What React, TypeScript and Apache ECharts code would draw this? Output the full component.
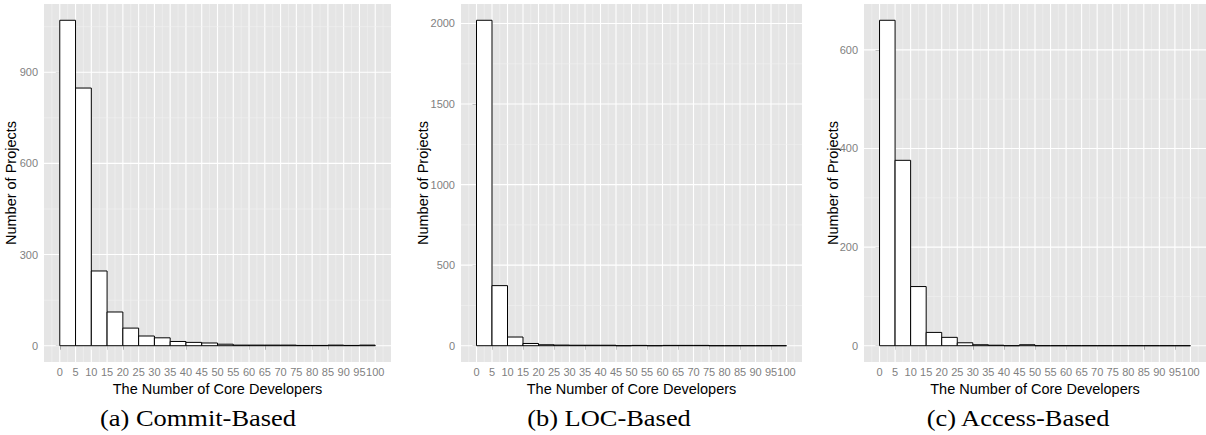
import React, { useEffect, useRef } from 'react';
import * as echarts from 'echarts';

// ---- data ----
const binStarts = [0, 5, 10, 15, 20, 25, 30, 35, 40, 45, 50, 55, 60, 65, 70, 75, 80, 85, 90, 95];
const binWidth = 5;
const xTickValues = [0, 5, 10, 15, 20, 25, 30, 35, 40, 45, 50, 55, 60, 65, 70, 75, 80, 85, 90, 95, 100];

const commitCounts = [1071, 848, 246, 111, 58, 32, 26, 14, 11, 9, 5, 2, 2, 2, 2, 1, 1, 2, 1, 2];
const locCounts = [2020, 373, 54, 14, 6, 4, 3, 3, 3, 0, 2, 0, 2, 2, 2, 0, 0, 0, 0, 0];
const accessCounts = [660, 376, 120, 27, 17, 6, 2, 1, 0, 2, 0, 0, 0, 0, 0, 0, 0, 0, 0, 0];

const commitYTicks = [0, 300, 600, 900];
const locYTicks = [0, 500, 1000, 1500, 2000];
const accessYTicks = [0, 200, 400, 600];

const captions = ['(a) Commit-Based', '(b) LOC-Based', '(c) Access-Based'];
const xTitle = 'The Number of Core Developers';
const yTitle = 'Number of Projects';

const SANS = 'Liberation Sans, Arial, sans-serif';
const SERIF = 'Liberation Serif, Times New Roman, serif';

const panels = [
  { counts: commitCounts, yTicks: commitYTicks, caption: captions[0], left: 44, width: 347, nameGap: 26, capX: 198 },
  { counts: locCounts, yTicks: locYTicks, caption: captions[1], left: 461, width: 341, nameGap: 31, capX: 609 },
  { counts: accessCounts, yTicks: accessYTicks, caption: captions[2], left: 864, width: 347, nameGap: 23.5, capX: 1018 },
];

const X_MIN = -5;
const X_MAX = 105;

export default function App() {
  const ref = useRef<HTMLDivElement>(null);

  useEffect(() => {
    if (!ref.current) return;
    const chart = echarts.init(ref.current, null, { renderer: 'svg' });

    const grids: any[] = [];
    const xAxes: any[] = [];
    const yAxes: any[] = [];
    const series: any[] = [];
    const graphics: any[] = [];

    panels.forEach((p, i) => {
      const maxCount = Math.max(...p.counts);
      const yMin = -0.05 * maxCount;
      const yMax = 1.05 * maxCount;

      grids.push({
        left: p.left, top: 4, width: p.width, height: 358,
        show: true, backgroundColor: '#E5E5E5', borderWidth: 0,
      });

      xAxes.push({
        type: 'value', gridIndex: i, min: X_MIN, max: X_MAX, interval: 5,
        axisLine: { show: false },
        axisTick: { show: true, customValues: xTickValues, length: 4, lineStyle: { color: '#7F7F7F', width: 1 } },
        axisLabel: {
          customValues: xTickValues, color: '#7F7F7F', fontSize: 11, fontFamily: SANS, margin: 4,
          formatter: (v: number) => String(v),
        },
        splitLine: { show: false },
        name: xTitle, nameLocation: 'middle', nameGap: 15,
        nameTextStyle: { color: '#000', fontSize: 14.5, fontFamily: SANS },
      });

      yAxes.push({
        type: 'value', gridIndex: i, min: yMin, max: yMax,
        axisLine: { show: false },
        axisTick: { show: true, customValues: p.yTicks, length: 4, lineStyle: { color: '#7F7F7F', width: 1 } },
        axisLabel: {
          customValues: p.yTicks, color: '#7F7F7F', fontSize: 11, fontFamily: SANS, margin: 6,
          formatter: (v: number) => String(v),
        },
        splitLine: { show: false },
        name: yTitle, nameLocation: 'middle', nameGap: p.nameGap, nameRotate: 90,
        nameMoveOverlap: false,
        nameTextStyle: { color: '#000', fontSize: 14.5, fontFamily: SANS },
      });

      // grid lines
      const xMinor: number[] = [];
      for (let k = 0; k < xTickValues.length; k++) {
        const v = xTickValues[k] - binWidth / 2;
        if (v > X_MIN && v < X_MAX) xMinor.push(v);
      }
      xMinor.push(xTickValues[xTickValues.length - 1] + binWidth / 2);
      const yStep = p.yTicks[1] - p.yTicks[0];
      const yMinor: number[] = [];
      for (let k = 0; k <= p.yTicks.length; k++) {
        const v = p.yTicks[0] + (k - 0.5) * yStep;
        if (v > yMin && v < yMax) yMinor.push(v);
      }

      const vData = [
        ...xMinor.map((v) => [v, 0, 1]),
        ...xTickValues.map((v) => [v, 0, 0]),
      ];
      const hData = [
        ...yMinor.map((v) => [0, v, 1]),
        ...p.yTicks.map((v) => [0, v, 0]),
      ];

      series.push({
        type: 'custom', xAxisIndex: i, yAxisIndex: i, z: 1, silent: true,
        data: vData, encode: { x: 0, y: 1 },
        renderItem: (params: any, api: any) => {
          const v = api.value(0);
          const minor = api.value(2);
          const a = api.coord([v, yMin]);
          const b = api.coord([v, yMax]);
          return {
            type: 'line',
            shape: { x1: a[0], y1: a[1], x2: b[0], y2: b[1] },
            style: { stroke: minor ? '#F2F2F2' : '#FFFFFF', lineWidth: minor ? 0.6 : 1.1 },
          };
        },
      });
      series.push({
        type: 'custom', xAxisIndex: i, yAxisIndex: i, z: 1, silent: true,
        data: hData, encode: { x: 0, y: 1 },
        renderItem: (params: any, api: any) => {
          const v = api.value(1);
          const minor = api.value(2);
          const a = api.coord([X_MIN, v]);
          const b = api.coord([X_MAX, v]);
          return {
            type: 'line',
            shape: { x1: a[0], y1: a[1], x2: b[0], y2: b[1] },
            style: { stroke: minor ? '#F2F2F2' : '#FFFFFF', lineWidth: minor ? 0.6 : 1.1 },
          };
        },
      });

      // histogram bars
      series.push({
        type: 'custom', xAxisIndex: i, yAxisIndex: i, z: 2,
        data: binStarts.map((s, k) => [s, p.counts[k], s + binWidth]),
        encode: { x: 0, y: 1 },
        renderItem: (params: any, api: any) => {
          const s = api.value(0);
          const c = api.value(1);
          const e = api.value(2);
          const p0 = api.coord([s, 0]);
          const p1 = api.coord([e, c]);
          return {
            type: 'rect',
            shape: { x: p0[0], y: p1[1], width: p1[0] - p0[0], height: p0[1] - p1[1] },
            style: { fill: '#FFFFFF', stroke: '#000000', lineWidth: 1 },
          };
        },
      });

      graphics.push({
        type: 'text', x: p.capX, y: 418, scaleX: 1.15,
        style: {
          text: p.caption, fill: '#000', font: `23px ${SERIF}`,
          textAlign: 'center', textVerticalAlign: 'middle',
        },
      });
    });

    chart.setOption({
      animation: false,
      backgroundColor: '#FFFFFF',
      grid: grids,
      xAxis: xAxes,
      yAxis: yAxes,
      series,
      graphic: graphics,
    });

    return () => chart.dispose();
  }, []);

  return (
    <div
      ref={ref}
      style={{ position: 'absolute', left: 0, top: 0, width: 1206, height: 435 }}
    />
  );
}
